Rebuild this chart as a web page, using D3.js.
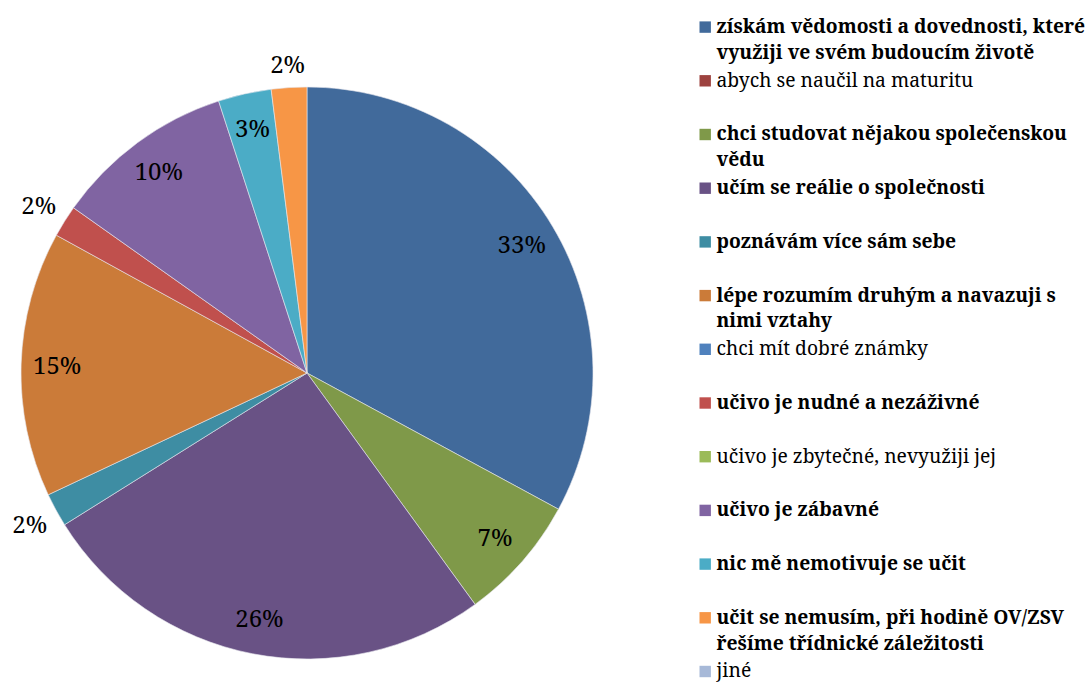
<!DOCTYPE html>
<html>
<head>
<meta charset="utf-8">
<script src="https://cdn.jsdelivr.net/npm/d3@7"></script>
<style>
  body { margin: 0; background: #fff; }
  svg { display: block; }
</style>
</head>
<body>
<div id="chart"></div>
<script>
// answers (legend order) and their share in percent
const categories = [
  "získám vědomosti a dovednosti, které využiji ve svém budoucím životě",
  "abych se naučil na maturitu",
  "chci studovat nějakou společenskou vědu",
  "učím se reálie o společnosti",
  "poznávám více sám sebe",
  "lépe rozumím druhým a navazuji s nimi vztahy",
  "chci mít dobré známky",
  "učivo je nudné a nezáživné",
  "učivo je zbytečné, nevyužiji jej",
  "učivo je zábavné",
  "nic mě nemotivuje se učit",
  "učit se nemusím, při hodině OV/ZSV řešíme třídnické záležitosti",
  "jiné"
];
const values = [32.9, 0, 7.1, 26.1, 1.9, 15.0, 0, 1.8, 0, 10.2, 3.0, 2.0, 0];
const colors = [
  "#416a9b", "#9d423f", "#7f9949", "#695285", "#3e8da3", "#cb7b39",
  "#4f81bd", "#c0504d", "#9bbb59", "#8064a2", "#4bacc6", "#f79646",
  "#a7b9d8"
];

const width = 1086, height = 684;
const cx = 307, cy = 373, radius = 286;
const fontFam = "Noto Serif";

const svg = d3.select("#chart").append("svg")
  .attr("width", width)
  .attr("height", height);

const data = categories.map((c, i) => ({ name: c, value: values[i] }));

const color = d3.scaleOrdinal()
  .domain(categories)
  .range(colors);

const pie = d3.pie()
  .sort(null)
  .value(d => d.value);

const arcs = pie(data);

const arc = d3.arc()
  .innerRadius(0)
  .outerRadius(radius);

const plot = svg.append("g")
  .attr("transform", `translate(${cx},${cy})`);

plot.selectAll("path")
  .data(arcs.filter(d => d.data.value > 0))
  .enter()
  .append("path")
  .attr("fill", d => color(d.data.name))
  .attr("stroke", "#e8e8ee")
  .attr("stroke-width", 0.6)
  .attr("d", arc);

// percent labels: inside for larger slices, just outside for the thin ones
const inner = d3.arc().innerRadius(radius * 0.874).outerRadius(radius * 0.874);

plot.selectAll("text.pct")
  .data(arcs.filter(d => d.data.value > 0))
  .enter()
  .append("text")
  .attr("class", "pct")
  .style("font-family", fontFam)
  .style("font-size", "24px")
  .attr("fill", "#000")
  .attr("text-anchor", "middle")
  .attr("dy", "0.35em")
  .attr("transform", d => {
    if (d.data.value >= 2.5) return `translate(${inner.centroid(d)})`;
    const a = (d.startAngle + d.endAngle) / 2;
    const s = Math.sin(a), c = -Math.cos(a);
    const hw = 16.5, hh = 12;
    const ext = Math.min(hw / Math.max(Math.abs(s), 1e-6), hh / Math.max(Math.abs(c), 1e-6));
    const r = radius + 11 + ext;
    return `translate(${s * r},${c * r})`;
  })
  .text(d => `${Math.round(d.data.value)}%`);

// legend
const legend = svg.append("g");
const legendX = 699.5, legendY0 = 33, legendStep = 53.7, lineH = 25.8;
const textX = legendX + 17;
const maxW = 378;

categories.forEach((name, i) => {
  const y = legendY0 + i * legendStep;
  const g = legend.append("g");
  g.append("rect")
    .attr("x", legendX)
    .attr("y", y - 11.6)
    .attr("width", 11.4)
    .attr("height", 11.4)
    .attr("fill", color(name));
  const t = g.append("text")
    .attr("x", textX)
    .attr("y", y)
    .style("font-family", fontFam)
    .style("font-size", "19.3px")
    .style("font-weight", values[i] > 0 ? "bold" : "normal")
    .attr("fill", "#000");
  // word wrap
  const words = name.split(" ");
  let line = [];
  let tspan = t.append("tspan").attr("x", textX).attr("dy", 0);
  words.forEach(w => {
    line.push(w);
    tspan.text(line.join(" "));
    if (tspan.node().getComputedTextLength() > maxW && line.length > 1) {
      line.pop();
      tspan.text(line.join(" "));
      line = [w];
      tspan = t.append("tspan").attr("x", textX).attr("dy", lineH).text(w);
    }
  });
});
</script>
</body>
</html>
